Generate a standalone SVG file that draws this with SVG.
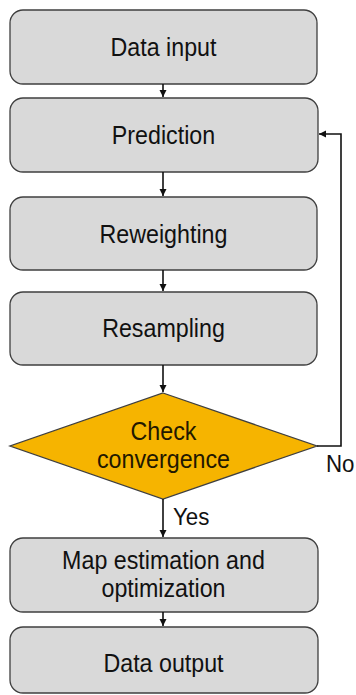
<svg xmlns="http://www.w3.org/2000/svg" width="356" height="695" viewBox="0 0 356 695">
  <style>
    .box { fill: #d9d9d9; stroke: #3f3f3f; stroke-width: 1.3; }
    .dec { fill: #f6b400; stroke: #3f3f3f; stroke-width: 1.3; }
    .lbl { font-family: "Liberation Sans", Arial, sans-serif; font-size: 25px; fill: #111; text-anchor: middle; }
    .dlbl { fill: #231800; }
    .side { font-family: "Liberation Sans", Arial, sans-serif; font-size: 24px; fill: #111; }
    .conn { fill: none; stroke: #111; stroke-width: 1.6; }
  </style>
  <defs>
    <marker id="arrow" markerWidth="8" markerHeight="8" refX="7" refY="4" orient="auto" markerUnits="userSpaceOnUse">
      <path d="M0,0.5 L7,4 L0,7.5 Z" fill="#111"/>
    </marker>
  </defs>
  <rect width="356" height="695" fill="#ffffff"/>

  <!-- labels are set slightly narrow: x scaled by 0.93 about the column centre x=163.5 -->
  <g id="data-input">
    <rect class="box" x="10" y="10" width="307" height="74" rx="13"/>
    <text class="lbl" x="163.5" y="56" transform="matrix(0.93 0 0 1 11.45 0)">Data input</text>
  </g>
  <g id="prediction">
    <rect class="box" x="10" y="98" width="308" height="74" rx="13"/>
    <text class="lbl" x="163.5" y="144" transform="matrix(0.93 0 0 1 11.45 0)">Prediction</text>
  </g>
  <g id="reweighting">
    <rect class="box" x="10" y="197" width="307" height="73" rx="13"/>
    <text class="lbl" x="163.5" y="243" transform="matrix(0.93 0 0 1 11.45 0)">Reweighting</text>
  </g>
  <g id="resampling">
    <rect class="box" x="10" y="292" width="307" height="73" rx="13"/>
    <text class="lbl" x="163.5" y="337" transform="matrix(0.93 0 0 1 11.45 0)">Resampling</text>
  </g>
  <g id="check-convergence">
    <polygon class="dec" points="163,393 317,446 163,499 10,446"/>
    <text class="lbl dlbl" x="163.5" y="440" transform="matrix(0.93 0 0 1 11.45 0)">Check</text>
    <text class="lbl dlbl" x="163.5" y="468" transform="matrix(0.93 0 0 1 11.45 0)">convergence</text>
  </g>
  <g id="map-estimation">
    <rect class="box" x="10" y="538" width="308" height="74" rx="13"/>
    <text class="lbl" x="163.5" y="569" transform="matrix(0.93 0 0 1 11.45 0)">Map estimation and</text>
    <text class="lbl" x="163.5" y="597" transform="matrix(0.93 0 0 1 11.45 0)">optimization</text>
  </g>
  <g id="data-output">
    <rect class="box" x="10" y="627" width="308" height="66" rx="13"/>
    <text class="lbl" x="163.5" y="672" transform="matrix(0.93 0 0 1 11.45 0)">Data output</text>
  </g>

  <g id="connectors">
    <line class="conn" x1="163" y1="84" x2="163" y2="97" marker-end="url(#arrow)"/>
    <line class="conn" x1="163" y1="172" x2="163" y2="196" marker-end="url(#arrow)"/>
    <line class="conn" x1="163" y1="270" x2="163" y2="291" marker-end="url(#arrow)"/>
    <line class="conn" x1="163" y1="365" x2="163" y2="392" marker-end="url(#arrow)"/>
    <line class="conn" x1="163" y1="499" x2="163" y2="537" marker-end="url(#arrow)"/>
    <line class="conn" x1="163" y1="612" x2="163" y2="626" marker-end="url(#arrow)"/>
    <polyline class="conn" points="317,446 341,446 341,134 319,134" marker-end="url(#arrow)"/>
    <text class="side" x="326" y="472" transform="matrix(0.93 0 0 1 22.8 0)">No</text>
    <text class="side" x="173" y="525" transform="matrix(0.93 0 0 1 12.1 0)">Yes</text>
  </g>
</svg>
